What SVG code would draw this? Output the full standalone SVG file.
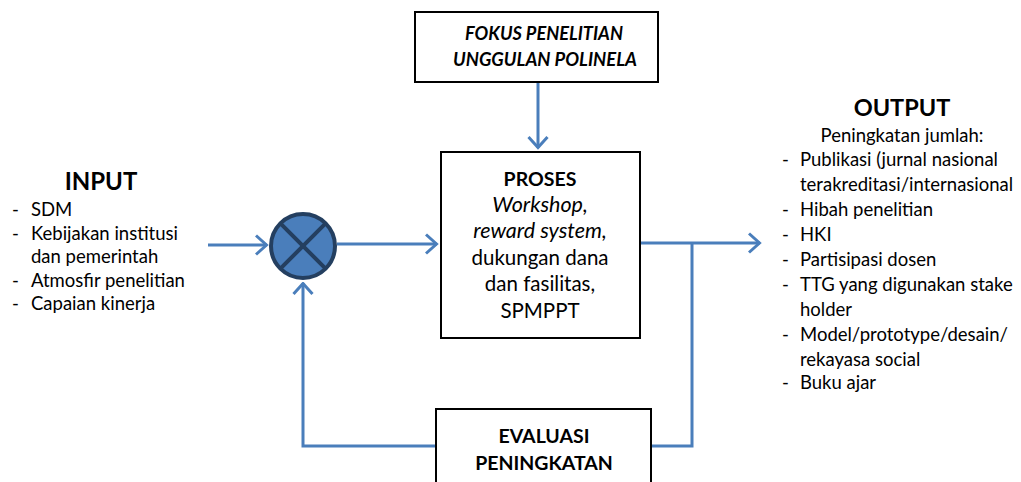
<svg xmlns="http://www.w3.org/2000/svg" width="1021" height="482" viewBox="0 0 1021 482">
<style>
.t{font-family:Lato,"Open Sans","Liberation Sans",sans-serif;fill:#000;}
.b{font-weight:bold;}
.i{font-style:italic;}
.box{fill:#fff;stroke:#000;stroke-width:2;}
.ln{fill:none;stroke:#4a7ebb;stroke-width:3;}
</style>
<defs>
<marker id="ah" viewBox="0 0 14 22" refX="12.5" refY="11" markerWidth="14" markerHeight="22" markerUnits="userSpaceOnUse" orient="auto">
<polyline points="1.5,1.5 12,11 1.5,20.5" fill="none" stroke="#4a7ebb" stroke-width="3"/>
</marker>
</defs>
<g id="connectors">
<line class="ln" x1="208" y1="245" x2="267" y2="245" marker-end="url(#ah)"/>
<line class="ln" x1="337" y1="244" x2="437" y2="244" marker-end="url(#ah)"/>
<line class="ln" x1="538" y1="82" x2="538" y2="148" marker-end="url(#ah)"/>
<line class="ln" x1="640" y1="243" x2="760" y2="243" marker-end="url(#ah)"/>
<polyline class="ln" points="692,243 692,446 651,446"/>
<polyline class="ln" points="436,446 303,446 303,283" marker-end="url(#ah)"/>
</g>
<g id="input">
<text class="t b" x="101" y="190" font-size="24" text-anchor="middle">INPUT</text>
<g class="t" font-size="18.5">
<text x="12" y="216">-</text><text x="31" y="216">SDM</text>
<text x="12" y="240">-</text><text x="31" y="240">Kebijakan institusi</text>
<text x="31" y="263">dan pemerintah</text>
<text x="12" y="287">-</text><text x="31" y="287">Atmosfir penelitian</text>
<text x="12" y="310">-</text><text x="31" y="310">Capaian kinerja</text>
</g>
</g>
<g id="junction">
<circle cx="303" cy="246" r="32" fill="#4a7ebb" stroke="#243f60" stroke-width="4"/>
<line x1="280.4" y1="223.4" x2="325.6" y2="268.6" stroke="#243f60" stroke-width="4"/>
<line x1="325.6" y1="223.4" x2="280.4" y2="268.6" stroke="#243f60" stroke-width="4"/>
</g>
<g id="fokus">
<rect class="box" x="415" y="12" width="243" height="70"/>
<text class="t b i" x="544" y="40" font-size="18" text-anchor="middle" textLength="158" lengthAdjust="spacingAndGlyphs">FOKUS PENELITIAN</text>
<text class="t b i" x="545" y="66" font-size="18" text-anchor="middle" textLength="184" lengthAdjust="spacingAndGlyphs">UNGGULAN POLINELA</text>
</g>
<g id="proses">
<rect class="box" x="441" y="152" width="199" height="186"/>
<g class="t" font-size="20.5" text-anchor="middle">
<text class="b" x="540" y="186" font-size="19.5">PROSES</text>
<text class="i" x="540" y="212" font-size="21.5">Workshop,</text>
<text class="i" x="540" y="238" font-size="21.5">reward system,</text>
<text x="540" y="265">dukungan dana</text>
<text x="540" y="291">dan fasilitas,</text>
<text x="540" y="318">SPMPPT</text>
</g>
</g>
<g id="evaluasi">
<rect class="box" x="436" y="409" width="215" height="80"/>
<text class="t b" x="544" y="443" font-size="19.5" text-anchor="middle">EVALUASI</text>
<text class="t b" x="544" y="470" font-size="19.5" text-anchor="middle">PENINGKATAN</text>
</g>
<g id="output">
<text class="t b" x="902" y="116" font-size="23.5" text-anchor="middle">OUTPUT</text>
<g class="t" font-size="18.5">
<text x="902" y="142" text-anchor="middle">Peningkatan jumlah:</text>
<text x="782" y="166">-</text><text x="800" y="166">Publikasi (jurnal nasional</text>
<text x="800" y="191">terakreditasi/internasional</text>
<text x="782" y="216">-</text><text x="800" y="216">Hibah penelitian</text>
<text x="782" y="241">-</text><text x="800" y="241">HKI</text>
<text x="782" y="266">-</text><text x="800" y="266">Partisipasi dosen</text>
<text x="782" y="291">-</text><text x="800" y="291">TTG yang digunakan stake</text>
<text x="800" y="316">holder</text>
<text x="782" y="341">-</text><text x="800" y="341">Model/prototype/desain/</text>
<text x="800" y="366">rekayasa social</text>
<text x="782" y="389">-</text><text x="800" y="389">Buku ajar</text>
</g>
</g>
</svg>
